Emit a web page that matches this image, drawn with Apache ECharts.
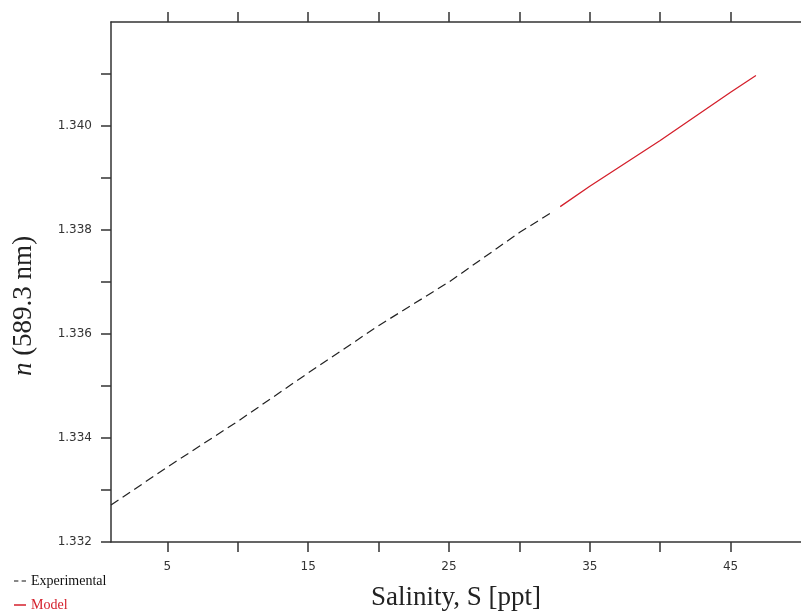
<!DOCTYPE html>
<html>
<head>
<meta charset="utf-8">
<title>Refractive index vs salinity</title>
<script src="https://cdn.jsdelivr.net/npm/echarts@6/dist/echarts.min.js"></script>
<style>
  html, body { margin: 0; padding: 0; background: #fff; }
  #chart { width: 801px; height: 616px; }
</style>
</head>
<body>
<div id="chart"></div>
<script>
// 实验数据（虚线）
const expSalinity = [1, 5, 10, 15, 20, 25, 30, 32.3]
const expIndex = [1.33271, 1.33344, 1.33432, 1.33525, 1.33616, 1.33700, 1.33795, 1.33834]

// 模型数据（红色实线）
const modelSalinity = [32.9, 35, 40, 45, 46.8]
const modelIndex = [1.33845, 1.33884, 1.33972, 1.34065, 1.34097]

// 刻度
const xTicks = [5, 10, 15, 20, 25, 30, 35, 40, 45]
const xLabels = [5, 15, 25, 35, 45]
const yTicks = [1.332, 1.333, 1.334, 1.335, 1.336, 1.337, 1.338, 1.339, 1.340, 1.341]
const yLabels = [1.332, 1.334, 1.336, 1.338, 1.340]

const pairs = (xs, ys) => xs.map((x, i) => [x, ys[i]])

const axisLine = { show: true, onZero: false, lineStyle: { color: '#333', width: 1.5 } }
const tickStyle = { lineStyle: { color: '#333', width: 1.5 } }

const chart = echarts.init(document.getElementById('chart'))

chart.setOption({
  animation: false,
  backgroundColor: '#fff',
  grid: { left: 111, top: 22, bottom: 73, right: -4 },
  legend: {
    orient: 'vertical',
    left: 14,
    top: 574,
    padding: 0,
    itemWidth: 12,
    itemHeight: 1.5,
    itemGap: 10,
    textStyle: { fontFamily: 'Liberation Serif', fontSize: 14 },
    data: [
      {
        name: 'Experimental',
        icon: 'path://M0,0h4v1h-4z M7,0h4v1h-4z',
        itemStyle: { color: '#111' },
        textStyle: { color: '#111' }
      },
      {
        name: 'Model',
        icon: 'rect',
        itemStyle: { color: '#d4202c' },
        textStyle: { color: '#d4202c' }
      }
    ]
  },
  xAxis: [
    {
      type: 'value',
      min: 1,
      max: 50,
      position: 'bottom',
      axisLine,
      splitLine: { show: false },
      axisTick: { show: true, inside: false, length: 10, customValues: xTicks, ...tickStyle },
      axisLabel: {
        customValues: xLabels,
        margin: 19,
        color: '#333',
        fontFamily: 'DejaVu Sans',
        fontSize: 12
      },
      name: 'Salinity, S [ppt]',
      nameLocation: 'middle',
      nameGap: 42,
      nameTextStyle: { fontFamily: 'Liberation Serif', fontSize: 27, color: '#222' }
    },
    {
      type: 'value',
      min: 1,
      max: 50,
      position: 'top',
      axisLine,
      splitLine: { show: false },
      axisTick: { show: true, inside: false, length: 10, customValues: xTicks, ...tickStyle },
      axisLabel: { show: false }
    }
  ],
  yAxis: {
    type: 'value',
    min: 1.332,
    max: 1.342,
    axisLine,
    splitLine: { show: false },
    axisTick: { show: true, inside: false, length: 10, customValues: yTicks, ...tickStyle },
    axisLabel: {
      customValues: yLabels,
      margin: 19,
      color: '#333',
      fontFamily: 'DejaVu Sans',
      fontSize: 12,
      formatter: (v) => v.toFixed(3)
    }
  },
  graphic: [
    {
      type: 'text',
      x: 24,
      y: 306,
      rotation: Math.PI / 2,
      style: {
        text: '{i|n} (589.3 nm)',
        align: 'center',
        verticalAlign: 'middle',
        fontFamily: 'Liberation Serif',
        fontSize: 27,
        fill: '#222',
        rich: {
          i: { fontFamily: 'Liberation Serif', fontStyle: 'italic', fontSize: 27, color: '#222' }
        }
      }
    }
  ],
  series: [
    {
      name: 'Experimental',
      type: 'line',
      data: pairs(expSalinity, expIndex),
      symbol: 'none',
      lineStyle: { color: '#222', width: 1.2, type: [9, 5] },
      itemStyle: { color: '#222' }
    },
    {
      name: 'Model',
      type: 'line',
      data: pairs(modelSalinity, modelIndex),
      symbol: 'none',
      lineStyle: { color: '#d4202c', width: 1.3 },
      itemStyle: { color: '#d4202c' }
    }
  ]
})
</script>
</body>
</html>
